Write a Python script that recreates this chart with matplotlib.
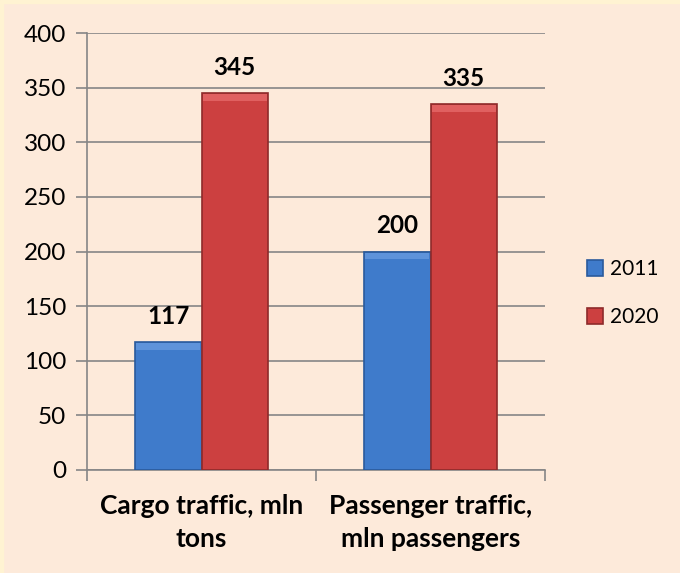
import numpy as np
import matplotlib.pyplot as plt
from matplotlib.patches import Rectangle

# data
categories = ["Cargo traffic, mln\ntons", "Passenger traffic,\nmln passengers"]
years = ["2011", "2020"]
values_2011 = [117, 200]
values_2020 = [345, 335]

plt.rcParams['font.family'] = ['Lato', 'DejaVu Sans']

fig = plt.figure(figsize=(6.8, 5.73), dpi=100)
fig.patch.set_facecolor("#FDEADA")
# yellowish strip on left/top edge
fig.patches.append(Rectangle((0, 0), 0.005, 1, transform=fig.transFigure, color="#FFF3D2", zorder=0))
fig.patches.append(Rectangle((0, 0.995), 1, 0.005, transform=fig.transFigure, color="#FFF3D2", zorder=0))

ax = fig.add_axes([87 / 680, 1 - 470 / 573, (545 - 87) / 680, (470 - 33) / 573])
ax.set_facecolor("#FDEADA")

x = np.arange(len(categories))
w = 0.29
b1 = ax.bar(x - w / 2, values_2011, w, color="#3F7BCB", edgecolor="#2A5A9C", linewidth=1.2, label=years[0], zorder=3)
b2 = ax.bar(x + w / 2, values_2020, w, color="#CC4040", edgecolor="#8E2A2A", linewidth=1.2, label=years[1], zorder=3)

# light bevel along the top of each bar
for bars, hi in ((b1, "#5E93DA"), (b2, "#E06060")):
    for r in bars:
        ax.bar(r.get_x() + r.get_width() / 2, 6, r.get_width() * 0.96, bottom=r.get_height() - 7,
               color=hi, linewidth=0, zorder=4)

for bars in (b1, b2):
    for r in bars:
        h = r.get_height()
        ax.text(r.get_x() + r.get_width() / 2, h + 13, str(int(h)), ha="center", va="bottom",
                fontsize=17.5, fontweight="bold", color="black")

ax.set_ylim(0, 400)
ax.set_xlim(-0.5, 1.5)
ax.set_yticks(range(0, 401, 50))
ax.tick_params(axis="y", labelsize=17.5, length=8, color="#868686", width=1.2, pad=7)
ax.set_xticks([-0.5, 0.5, 1.5])
ax.set_xticklabels([])
ax.tick_params(axis="x", length=8, color="#868686", width=1.2)
for i, c in enumerate(categories):
    ax.text(i, -22, c, ha="center", va="top", fontsize=19, fontweight="bold", linespacing=1.45)

ax.grid(axis="y", color="#868686", linewidth=1.2, zorder=0)
for s in ["top", "right"]:
    ax.spines[s].set_visible(False)
for s in ["left", "bottom"]:
    ax.spines[s].set_color("#868686")
    ax.spines[s].set_linewidth(1.2)

ax.legend(loc="center left", bbox_to_anchor=(1.05, 0.405), frameon=False, fontsize=15,
          handlelength=0.8, handleheight=0.8, labelspacing=1.35, handletextpad=0.3)

fig.savefig("out.png", dpi=100, facecolor=fig.get_facecolor())
